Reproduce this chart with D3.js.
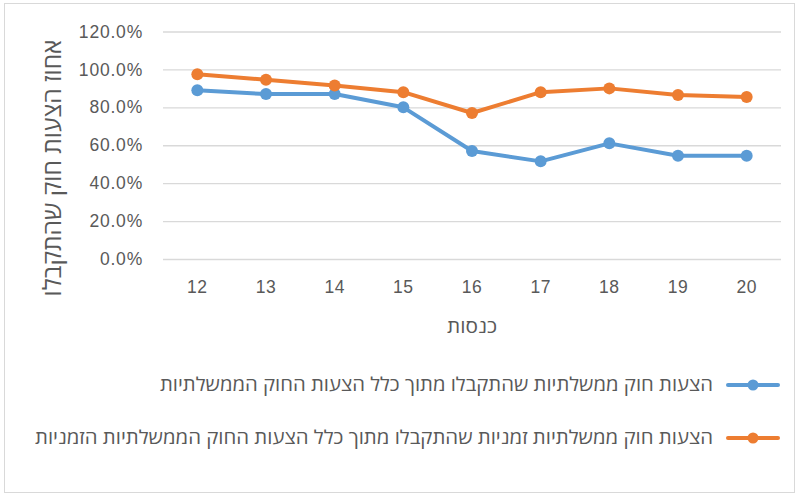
<!DOCTYPE html>
<html>
<head>
<meta charset="utf-8">
<script src="https://cdn.jsdelivr.net/npm/d3@7"></script>
<style>
  body { margin: 0; background: #fff; }
  svg { display: block; font-family: "Open Sans", "Liberation Sans", "DejaVu Sans", sans-serif; }
</style>
</head>
<body>
<svg width="799" height="495"></svg>
<script>
// knesset numbers on the x axis
var categories = ["12", "13", "14", "15", "16", "17", "18", "19", "20"];

// percent of government bills that passed
var govPassed = [89, 87, 87, 80, 57, 51.5, 61, 54.5, 54.5];
// percent of temporary government bills that passed
var tempPassed = [97.5, 94.5, 91.5, 88, 77, 88, 90, 86.5, 85.5];

var seriesNames = [
  "הצעות חוק ממשלתיות שהתקבלו מתוך כלל הצעות החוק הממשלתיות",
  "הצעות חוק ממשלתיות זמניות שהתקבלו מתוך כלל הצעות החוק הממשלתיות הזמניות"
];
var seriesColors = ["#5B9BD5", "#ED7D31"];

var yTicks = [0, 20, 40, 60, 80, 100, 120];
var yTitle = "אחוז  הצעות  חוק  שהתקבלו";
var xTitle = "כנסות";

var svg = d3.select("svg"),
    plot = {left: 163, right: 781, top: 31.5, bottom: 259},
    textColor = "#595959",
    formatPct = function(d) { return d3.format(".1f")(d) + "%"; };

// chart frame
svg.append("rect")
    .attr("x", 4.5).attr("y", 3.5)
    .attr("width", 790).attr("height", 489)
    .attr("fill", "#fff")
    .attr("stroke", "#D9D9D9");

var x = d3.scaleBand().domain(categories).range([plot.left, plot.right]),
    y = d3.scaleLinear().domain([0, 120]).range([plot.bottom, plot.top]);

function cx(d) { return x(d) + x.bandwidth() / 2; }

// gridlines + y labels
var yAxis = d3.axisLeft(y).tickValues(yTicks).tickFormat(formatPct)
    .tickSize(-(plot.right - plot.left)).tickPadding(20);

var gy = svg.append("g")
    .attr("transform", "translate(" + plot.left + ",0)")
    .call(yAxis);
gy.select(".domain").remove();
gy.selectAll(".tick line").attr("stroke", "#D9D9D9").attr("stroke-width", 1.3);
gy.selectAll(".tick text")
    .attr("fill", textColor)
    .style("font-size", "17.5px")
    .style("letter-spacing", "0.8px");

// x labels
var xAxis = d3.axisBottom(x).tickSize(0).tickPadding(22);
var gx = svg.append("g")
    .attr("transform", "translate(0," + plot.bottom + ")")
    .call(xAxis);
gx.select(".domain").remove();
gx.selectAll(".tick text")
    .attr("fill", textColor)
    .style("font-size", "17.5px")
    .style("letter-spacing", "0.5px");

// axis titles
svg.append("text")
    .attr("transform", "translate(61,168) rotate(-90)")
    .attr("text-anchor", "middle")
    .attr("direction", "rtl")
    .attr("fill", textColor)
    .attr("textLength", 257)
    .attr("lengthAdjust", "spacingAndGlyphs")
    .style("font-size", "25px")
    .text(yTitle);

svg.append("text")
    .attr("x", (plot.left + plot.right) / 2)
    .attr("y", 333)
    .attr("text-anchor", "middle")
    .attr("fill", textColor)
    .attr("textLength", 50)
    .attr("lengthAdjust", "spacingAndGlyphs")
    .style("font-size", "19px")
    .text(xTitle);

// lines and markers
var line = d3.line()
    .x(function(d, i) { return cx(categories[i]); })
    .y(function(d) { return y(d); });

[govPassed, tempPassed].forEach(function(vals, s) {
    svg.append("path")
        .datum(vals)
        .attr("fill", "none")
        .attr("stroke", seriesColors[s])
        .attr("stroke-width", 4)
        .attr("stroke-linejoin", "round")
        .attr("stroke-linecap", "round")
        .attr("d", line);

    svg.append("g").selectAll("circle")
        .data(vals)
        .enter().append("circle")
        .attr("cx", function(d, i) { return cx(categories[i]); })
        .attr("cy", function(d) { return y(d); })
        .attr("r", 6)
        .attr("fill", seriesColors[s]);
});

// legend
var legendWidths = [553, 678];
var legend = svg.append("g").selectAll("g")
    .data(seriesNames)
    .enter().append("g")
    .attr("transform", function(d, i) { return "translate(0," + (385 + i * 53) + ")"; });

legend.append("line")
    .attr("x1", 728).attr("x2", 778)
    .attr("stroke", function(d, i) { return seriesColors[i]; })
    .attr("stroke-width", 4)
    .attr("stroke-linecap", "round");

legend.append("circle")
    .attr("cx", 753).attr("r", 5.5)
    .attr("fill", function(d, i) { return seriesColors[i]; });

legend.append("text")
    .attr("x", 713)
    .attr("y", 6)
    .attr("direction", "rtl")
    .attr("text-anchor", "start")
    .attr("fill", textColor)
    .attr("textLength", function(d, i) { return legendWidths[i]; })
    .attr("lengthAdjust", "spacingAndGlyphs")
    .style("font-size", "19px")
    .text(function(d) { return d; });
</script>
</body>
</html>
